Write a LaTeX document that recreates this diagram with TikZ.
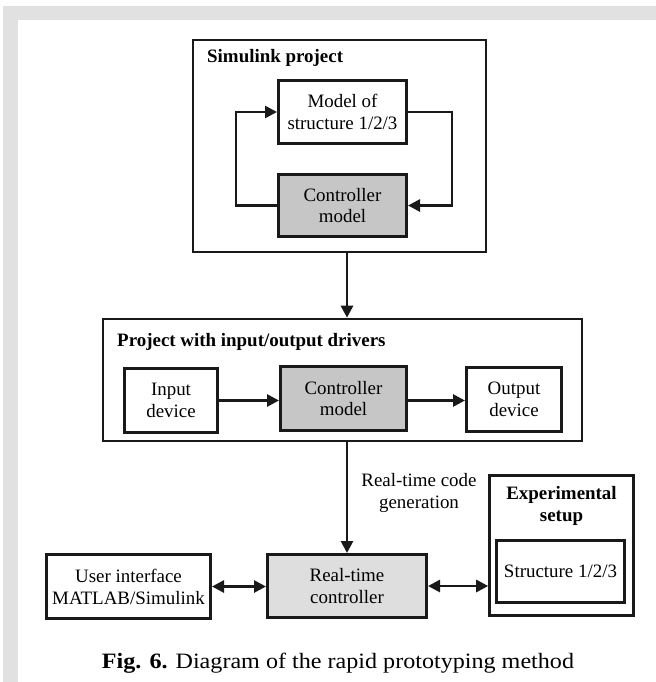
\documentclass[tikz,border=0pt]{standalone}
\usepackage{fontspec}
\setmainfont{Liberation Serif}
\usetikzlibrary{arrows.meta,calc}
\definecolor{framegray}{RGB}{225,225,225}
\definecolor{ctrlgray}{RGB}{198,198,198}
\definecolor{rtgray}{RGB}{222,222,222}
\begin{document}
\begin{tikzpicture}[x=1bp,y=-1bp,
  box/.style={draw=black!90, line width=3bp, inner sep=0pt, align=center,
    font=\fontsize{19}{22}\selectfont},
  outer/.style={draw=black!90, line width=2.6bp, inner sep=0pt},
  arr/.style={draw=black!90, line width=2.7bp, -{Triangle[length=12bp,width=12bp]}},
  darr/.style={draw=black!90, line width=2.7bp, {Triangle[length=12bp,width=12bp]}-{Triangle[length=12bp,width=12bp]}},
  lbl/.style={inner sep=0pt, font=\fontsize{19}{22}\selectfont\bfseries},
  txt/.style={inner sep=0pt, align=center, font=\fontsize{19}{22}\selectfont}]
\useasboundingbox (0,0) rectangle (656,682);
\fill[white] (0,0) rectangle (656,682);
\fill[framegray] (3,6) rectangle (656,20);
\fill[framegray] (3,6) rectangle (18,682);

% Simulink project
\node[outer, minimum width=293bp, minimum height=212bp] (simbox) at (339.5,146) {};
\node[lbl, anchor=base west] (simlbl) at (207,63) {Simulink project};
\node[box, minimum width=128bp, minimum height=63bp] (model) at (342.5,112) {Model of\\structure 1/2/3};
\node[box, fill=ctrlgray, minimum width=128bp, minimum height=62bp] (ctrla) at (342.5,205.5) {Controller\\model};
\draw[arr] (ctrla.west) -- ++(-41,0) |- (model.west);
\draw[arr] (model.east) -- ++(44,0) |- (ctrla.east);

% Project with drivers
\node[outer, minimum width=479bp, minimum height=122bp] (projbox) at (342.5,380) {};
\node[lbl, anchor=base west] (projlbl) at (117,346) {Project with input/output drivers};
\node[box, minimum width=93bp, minimum height=64bp] (indev) at (171,400.5) {Input\\device};
\node[box, fill=ctrlgray, minimum width=126bp, minimum height=64bp] (ctrlb) at (343.5,398.5) {Controller\\model};
\node[box, minimum width=95bp, minimum height=64bp] (outdev) at (514,399.5) {Output\\device};
\draw[arr] (indev.east) -- (indev.east -| ctrlb.west);
\draw[arr] (indev.east -| ctrlb.east) -- (indev.east -| outdev.west);

% Bottom row
\node[box, minimum width=164bp, minimum height=64bp] (ui) at (128.5,586.5) {User interface\\MATLAB/Simulink};
\node[box, fill=rtgray, minimum width=159bp, minimum height=63bp] (rtc) at (347,586) {Real-time\\controller};
\node[outer, minimum width=144bp, minimum height=140bp] (expbox) at (561.5,545.5) {};
\node[lbl, align=center] (explbl) at (561.5,506) {Experimental\\setup};
\node[box, minimum width=128bp, minimum height=62bp] (struct) at (560.5,571.5) {Structure 1/2/3};

\draw[arr] (simbox.south -| rtc.north) -- (projbox.north -| rtc.north);
\draw[arr] (projbox.south -| rtc.north) -- (rtc.north);
\node[txt] (codegen) at (419,493) {Real-time code\\generation};
\draw[darr] (ui.east) -- (ui.east -| rtc.west);
\draw[darr] (rtc.east) -- (rtc.east -| expbox.west);

% Caption
\node[inner sep=0pt, anchor=base] (caption) at (338,668) {\scalebox{1.1}[1]{\fontsize{22}{26}\selectfont\textbf{Fig. 6.} Diagram of the rapid prototyping method}};
\end{tikzpicture}
\end{document}
